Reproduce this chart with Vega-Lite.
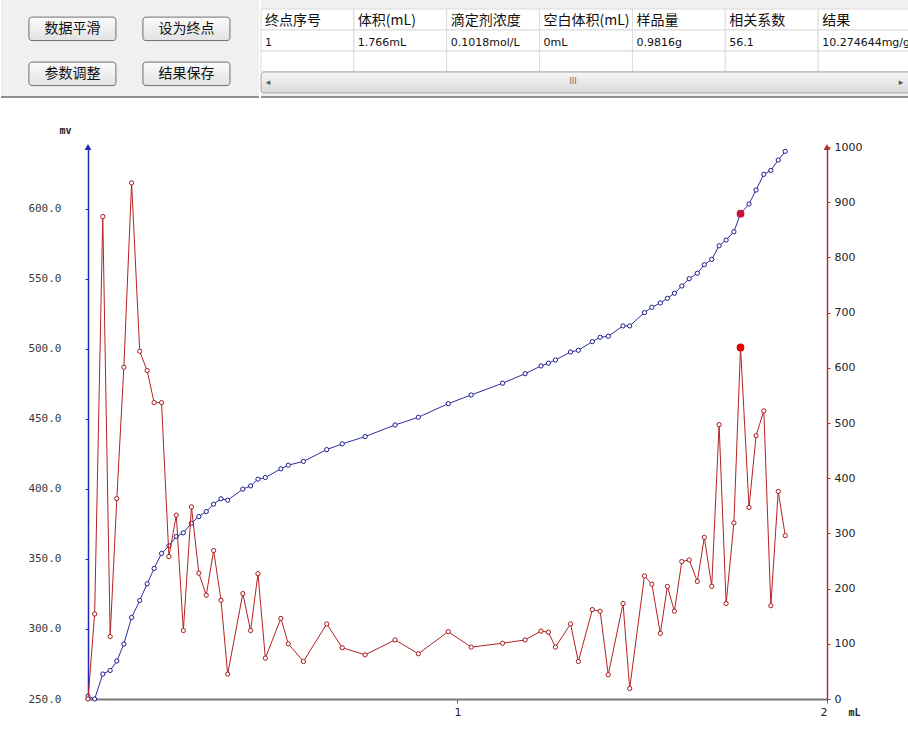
{
  "$schema": "https://vega.github.io/schema/vega-lite/v6.json",
  "background": "white",
  "padding": 0,
  "config": {"view": {"stroke": null}, "axis": {"grid": false}},
  "columns": 1,
  "spacing": 27,
  "concat": [
    {
      "spacing": 0,
      "hconcat": [
        {
          "width": 258,
          "height": 97,
          "view": {"fill": "#f0f0f0", "stroke": null},
          "layer": [
            {
              "data": {"values": [
                {"label": "数据平滑", "col": "a", "row": "1"},
                {"label": "设为终点", "col": "b", "row": "1"},
                {"label": "参数调整", "col": "a", "row": "2"},
                {"label": "结果保存", "col": "b", "row": "2"}
              ]},
              "encoding": {
                "x": {"field": "col", "type": "nominal", "axis": null, "scale": {"type": "band", "paddingInner": 0.237, "paddingOuter": 0.25, "align": 0.49}},
                "y": {"field": "row", "type": "nominal", "axis": null, "scale": {"type": "band", "paddingInner": 0.478, "paddingOuter": 0.317, "align": 0.6}}
              },
              "layer": [
                {"mark": {"type": "rect", "cornerRadius": 3, "stroke": "#6f6f6f", "strokeWidth": 1, "fill": {"gradient": "linear", "x1": 0, "y1": 0, "x2": 0, "y2": 1, "stops": [{"offset": 0, "color": "#fbfbfb"}, {"offset": 1, "color": "#e2e2e2"}]}}},
                {"mark": {"type": "text", "font": "Noto Sans CJK SC", "fontSize": 14, "color": "#111111", "baseline": "middle"}, "encoding": {"text": {"field": "label"}}}
              ]
            },
            {
              "data": {"values": [{}]},
              "mark": {"type": "rule", "color": "#6e6e6e", "strokeWidth": 1.5},
              "encoding": {"y": {"value": "height"}}
            }
          ]
        },
        {
          "width": 650,
          "height": 97,
          "view": {"fill": "#f0f0f0", "stroke": null},
          "layer": [
            {
              "data": {"values": [
                {"col": "终点序号", "row": "h", "text": "终点序号"},
                {"col": "体积(mL)", "row": "h", "text": "体积(mL)"},
                {"col": "滴定剂浓度", "row": "h", "text": "滴定剂浓度"},
                {"col": "空白体积(mL)", "row": "h", "text": "空白体积(mL)"},
                {"col": "样品量", "row": "h", "text": "样品量"},
                {"col": "相关系数", "row": "h", "text": "相关系数"},
                {"col": "结果", "row": "h", "text": "结果"},
                {"col": "终点序号", "row": "r1", "text": "1"},
                {"col": "体积(mL)", "row": "r1", "text": "1.766mL"},
                {"col": "滴定剂浓度", "row": "r1", "text": "0.1018mol/L"},
                {"col": "空白体积(mL)", "row": "r1", "text": "0mL"},
                {"col": "样品量", "row": "r1", "text": "0.9816g"},
                {"col": "相关系数", "row": "r1", "text": "56.1"},
                {"col": "结果", "row": "r1", "text": "10.274644mg/g"},
                {"col": "终点序号", "row": "r2", "text": ""},
                {"col": "体积(mL)", "row": "r2", "text": ""},
                {"col": "滴定剂浓度", "row": "r2", "text": ""},
                {"col": "空白体积(mL)", "row": "r2", "text": ""},
                {"col": "样品量", "row": "r2", "text": ""},
                {"col": "相关系数", "row": "r2", "text": ""},
                {"col": "结果", "row": "r2", "text": ""}
              ]},
              "encoding": {
                "x": {"field": "col", "type": "nominal", "sort": null, "axis": null, "scale": {"type": "band", "paddingInner": 0, "paddingOuter": 0}},
                "y": {"field": "row", "type": "nominal", "axis": null, "scale": {"type": "band", "domain": ["h", "r1", "r2", "sb"], "paddingInner": 0, "paddingOuter": 0.31, "align": 0.69}}
              },
              "layer": [
                {"mark": {"type": "rect", "fill": "white", "stroke": "#dcdcdc", "strokeWidth": 1}},
                {
                  "transform": [{"filter": "datum.row === 'h'"}],
                  "mark": {"type": "text", "align": "left", "baseline": "middle", "dx": 4, "dy": 2, "font": "Noto Sans CJK SC", "fontSize": 14, "color": "#111111"},
                  "encoding": {"x": {"field": "col", "type": "nominal", "sort": null, "bandPosition": 0}, "text": {"field": "text"}}
                },
                {
                  "transform": [{"filter": "datum.row === 'r1'"}],
                  "mark": {"type": "text", "align": "left", "baseline": "middle", "dx": 4, "dy": 3, "font": "DejaVu Sans", "fontSize": 11, "color": "#111111"},
                  "encoding": {"x": {"field": "col", "type": "nominal", "sort": null, "bandPosition": 0}, "text": {"field": "text"}}
                }
              ]
            },
            {
              "data": {"values": [{"part": "track"}]},
              "layer": [
                {"mark": {"type": "rect", "fill": "#e8e8e8"}, "encoding": {"y": {"datum": "sb"}}},
                {"mark": {"type": "rect", "xOffset": 20, "x2Offset": -18, "cornerRadius": 3, "stroke": "#a3a3a3", "strokeWidth": 1, "fill": {"gradient": "linear", "x1": 0, "y1": 0, "x2": 0, "y2": 1, "stops": [{"offset": 0, "color": "#f7f7f7"}, {"offset": 1, "color": "#d9d9d9"}]}}, "encoding": {"y": {"datum": "sb"}}},
                {"mark": {"type": "text", "text": "III", "fontSize": 8, "font": "DejaVu Sans", "color": "#666666", "dx": -13, "baseline": "middle"}, "encoding": {"y": {"datum": "sb"}}},
                {"mark": {"type": "text", "text": "◂", "fontSize": 9, "font": "DejaVu Sans", "color": "#555555", "dx": 7, "baseline": "middle"}, "encoding": {"y": {"datum": "sb"}, "x": {"datum": "终点序号", "bandPosition": 0}}},
                {"mark": {"type": "text", "text": "▸", "fontSize": 9, "font": "DejaVu Sans", "color": "#555555", "dx": -10, "baseline": "middle"}, "encoding": {"y": {"datum": "sb"}, "x": {"datum": "结果", "bandPosition": 1}}}
              ]
            },
            {
              "data": {"values": [{}]},
              "mark": {"type": "rule", "color": "#6e6e6e", "strokeWidth": 1.5},
              "encoding": {"y": {"value": "height"}}
            }
          ]
        }
      ]
    },
    {
      "width": 826,
      "height": 552,
      "data": {"values": [
        {"v": 0.000, "mv": 252.0, "d": 0},
        {"v": 0.018, "mv": 250.0, "d": 154},
        {"v": 0.040, "mv": 267.8, "d": 874},
        {"v": 0.060, "mv": 270.4, "d": 113},
        {"v": 0.078, "mv": 277.1, "d": 363},
        {"v": 0.097, "mv": 289.2, "d": 601},
        {"v": 0.118, "mv": 308.2, "d": 935},
        {"v": 0.140, "mv": 320.3, "d": 630},
        {"v": 0.160, "mv": 332.2, "d": 595},
        {"v": 0.179, "mv": 343.2, "d": 537},
        {"v": 0.199, "mv": 353.9, "d": 537},
        {"v": 0.219, "mv": 359.3, "d": 258},
        {"v": 0.239, "mv": 366.0, "d": 333},
        {"v": 0.258, "mv": 368.6, "d": 124},
        {"v": 0.280, "mv": 375.5, "d": 348},
        {"v": 0.300, "mv": 380.2, "d": 228},
        {"v": 0.320, "mv": 383.8, "d": 188},
        {"v": 0.340, "mv": 389.1, "d": 269},
        {"v": 0.360, "mv": 392.9, "d": 179},
        {"v": 0.378, "mv": 391.9, "d": 45},
        {"v": 0.419, "mv": 399.8, "d": 191},
        {"v": 0.440, "mv": 402.1, "d": 124},
        {"v": 0.460, "mv": 406.9, "d": 227},
        {"v": 0.480, "mv": 408.1, "d": 74},
        {"v": 0.522, "mv": 414.3, "d": 146},
        {"v": 0.542, "mv": 416.9, "d": 100},
        {"v": 0.583, "mv": 419.6, "d": 68},
        {"v": 0.646, "mv": 428.0, "d": 136},
        {"v": 0.688, "mv": 432.1, "d": 93},
        {"v": 0.750, "mv": 437.3, "d": 80},
        {"v": 0.831, "mv": 445.6, "d": 107},
        {"v": 0.894, "mv": 451.1, "d": 82},
        {"v": 0.975, "mv": 460.8, "d": 122},
        {"v": 1.037, "mv": 467.0, "d": 94},
        {"v": 1.122, "mv": 475.4, "d": 101},
        {"v": 1.183, "mv": 482.2, "d": 107},
        {"v": 1.226, "mv": 487.7, "d": 123},
        {"v": 1.246, "mv": 489.7, "d": 121},
        {"v": 1.265, "mv": 492.0, "d": 94},
        {"v": 1.306, "mv": 497.7, "d": 136},
        {"v": 1.327, "mv": 498.9, "d": 68},
        {"v": 1.365, "mv": 505.1, "d": 162},
        {"v": 1.386, "mv": 508.2, "d": 159},
        {"v": 1.408, "mv": 508.9, "d": 44},
        {"v": 1.448, "mv": 516.3, "d": 173},
        {"v": 1.466, "mv": 516.3, "d": 19},
        {"v": 1.506, "mv": 525.8, "d": 223},
        {"v": 1.526, "mv": 529.6, "d": 208},
        {"v": 1.549, "mv": 532.7, "d": 119},
        {"v": 1.568, "mv": 536.0, "d": 204},
        {"v": 1.587, "mv": 539.6, "d": 159},
        {"v": 1.607, "mv": 544.8, "d": 249},
        {"v": 1.627, "mv": 550.0, "d": 252},
        {"v": 1.649, "mv": 553.9, "d": 213},
        {"v": 1.668, "mv": 560.0, "d": 293},
        {"v": 1.688, "mv": 563.8, "d": 204},
        {"v": 1.708, "mv": 573.5, "d": 497},
        {"v": 1.727, "mv": 577.6, "d": 173},
        {"v": 1.748, "mv": 583.5, "d": 319},
        {"v": 1.766, "mv": 596.4, "d": 637, "end": true},
        {"v": 1.789, "mv": 603.3, "d": 347},
        {"v": 1.808, "mv": 613.3, "d": 477},
        {"v": 1.829, "mv": 624.5, "d": 522},
        {"v": 1.848, "mv": 627.3, "d": 169},
        {"v": 1.868, "mv": 634.7, "d": 376},
        {"v": 1.887, "mv": 640.9, "d": 296}
      ]},
      "encoding": {
        "x": {
          "field": "v", "type": "quantitative",
          "scale": {"domain": [-0.23545, 2], "nice": false, "zero": false},
          "axis": {
            "values": [1, 2], "format": "d",
            "domain": true, "domainColor": "#7a7a7a", "domainWidth": 2, "domainDash": [739, 87], "domainDashOffset": 739,
            "labelFont": "DejaVu Sans", "labelFontSize": 11, "labelColor": "#222222", "labelPadding": 3,
            "tickSize": 4, "tickColor": "#666666",
            "title": "mL", "titleX": 853, "titleY": 13, "titleAlign": "center", "titleBaseline": "middle",
            "titleFont": "DejaVu Sans Mono", "titleFontSize": 10, "titleFontWeight": "bold", "titleColor": "#222222"
          }
        }
      },
      "layer": [
        {
          "encoding": {
            "y": {
              "field": "mv", "type": "quantitative",
              "scale": {"domain": [250, 644], "nice": false, "zero": false},
              "axis": {
                "orient": "left", "offset": -87, "values": [250, 300, 350, 400, 450, 500, 550, 600], "format": ".1f",
                "labelFont": "DejaVu Sans Mono", "labelFontSize": 11, "labelColor": "#3a3a3a", "labelPadding": 24,
                "tickSize": 3, "tickColor": "#2525b5", "domainColor": "#2525b5", "domainWidth": 1.5,
                "title": "mv", "titleAngle": 0, "titleX": -23, "titleY": -17, "titleAlign": "center", "titleBaseline": "middle",
                "titleFont": "DejaVu Sans Mono", "titleFontSize": 10, "titleFontWeight": "bold", "titleColor": "#222222", "titlePadding": 0
              }
            }
          },
          "layer": [
            {"mark": {"type": "line", "color": "#2e2e9e", "strokeWidth": 1, "point": {"filled": false, "fill": "white", "size": 18, "strokeWidth": 1, "color": "#1c1c8c", "opacity": 1}}},
            {"transform": [{"filter": "datum.end"}], "mark": {"type": "circle", "size": 60, "color": "#c8103c", "opacity": 1}},
            {"transform": [{"filter": "datum.end"}], "mark": {"type": "point", "shape": "triangle-up", "filled": true, "size": 45, "color": "#2525b5", "opacity": 1}, "encoding": {"x": {"datum": 0, "type": "quantitative"}, "y": {"datum": 644, "type": "quantitative"}}}
          ]
        },
        {
          "encoding": {
            "y": {
              "field": "d", "type": "quantitative",
              "scale": {"domain": [0, 1000], "nice": false, "zero": false},
              "axis": {
                "orient": "right", "values": [0, 100, 200, 300, 400, 500, 600, 700, 800, 900, 1000], "format": "d",
                "labelFont": "DejaVu Sans", "labelFontSize": 11, "labelColor": "#222222", "labelPadding": 4,
                "tickSize": 3, "tickColor": "#b03030", "domainColor": "#b03030", "domainWidth": 1.5, "title": null
              }
            }
          },
          "layer": [
            {"mark": {"type": "line", "color": "#b52222", "strokeWidth": 1, "point": {"filled": false, "fill": "white", "size": 18, "strokeWidth": 1, "color": "#a81818", "opacity": 1}}},
            {"transform": [{"filter": "datum.end"}], "mark": {"type": "circle", "size": 60, "color": "#e00000", "opacity": 1}},
            {"transform": [{"filter": "datum.end"}], "mark": {"type": "point", "shape": "triangle-up", "filled": true, "size": 45, "color": "#b03030", "opacity": 1}, "encoding": {"x": {"datum": 2, "type": "quantitative"}, "y": {"datum": 1000, "type": "quantitative"}}}
          ]
        }
      ],
      "resolve": {"scale": {"y": "independent"}, "axis": {"y": "independent"}}
    }
  ]
}
